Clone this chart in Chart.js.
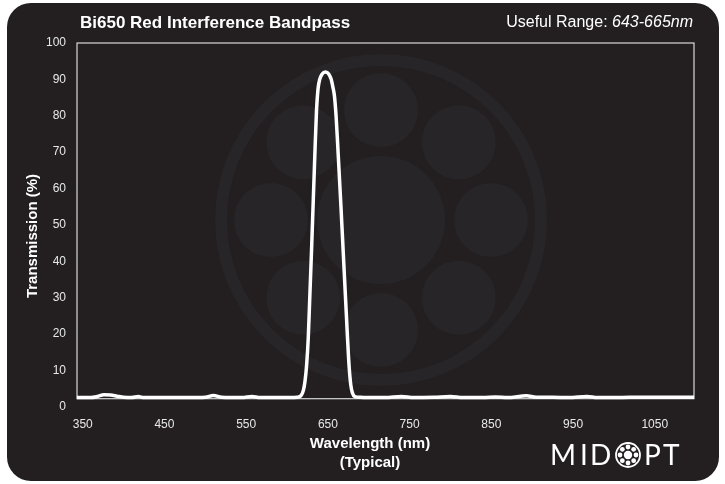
<!DOCTYPE html>
<html><head><meta charset="utf-8">
<script src="https://cdn.jsdelivr.net/npm/chart.js@4/dist/chart.umd.min.js"></script>
<style>html,body{margin:0;padding:0;background:#fff;}canvas{display:block;}</style>
</head><body>
<canvas id="c" width="725" height="484"></canvas>
<script>
const titleText = 'Bi650 Red Interference Bandpass';
const rangeLabel = 'Useful Range: ';
const rangeValue = '643-665nm';
const xAxisTitle = ['Wavelength (nm)', '(Typical)'];
const yAxisTitle = 'Transmission (%)';
const xTicks = [350, 450, 550, 650, 750, 850, 950, 1050];
const yTicks = [0, 10, 20, 30, 40, 50, 60, 70, 80, 90, 100];
const wavelengths = [343, 360, 368, 376, 384, 392, 400, 410, 418, 425, 450, 480, 500, 510, 520, 545, 557, 567, 590, 605, 612, 617, 620, 622, 624, 626, 628, 630, 632, 634, 636, 638, 640, 643, 647, 651, 654, 656, 658, 660, 662, 664, 666, 668, 670, 672, 674, 676, 678, 680, 683, 690, 700, 720, 740, 755, 780, 800, 815, 840, 855, 870, 893, 905, 925, 945, 967, 980, 1000, 1020, 1050, 1075, 1098];
const transmission = [2.5, 2.5, 2.8, 3.3, 3.2, 2.9, 2.6, 2.5, 2.8, 2.5, 2.5, 2.5, 2.6, 3.1, 2.6, 2.5, 2.8, 2.5, 2.5, 2.5, 2.6, 3.0, 4.5, 7, 11.5, 19, 31, 43, 56, 69, 81, 87.5, 90, 91.5, 92, 91.5, 90, 88, 85.5, 80, 72, 63.5, 55, 46, 37, 28, 19, 11, 6, 3.8, 2.8, 2.6, 2.5, 2.5, 2.8, 2.5, 2.6, 2.8, 2.5, 2.5, 2.7, 2.5, 3.0, 2.6, 2.6, 2.5, 2.8, 2.5, 2.5, 2.6, 2.6, 2.6, 2.6];
const xMin = 343, xMax = 1098, frameBottom = 2.2;

const FONT = "'Liberation Sans', Arial, sans-serif";

function roundRect(ctx, x, y, w, h, r) {
  ctx.beginPath();
  ctx.moveTo(x + r, y);
  ctx.arcTo(x + w, y, x + w, y + h, r);
  ctx.arcTo(x + w, y + h, x, y + h, r);
  ctx.arcTo(x, y + h, x, y, r);
  ctx.arcTo(x, y, x + w, y, r);
  ctx.closePath();
}

const decor = {
  id: 'decor',
  beforeDraw(chart) {
    const ctx = chart.ctx;
    ctx.save();
    ctx.fillStyle = '#ffffff';
    ctx.fillRect(0, 0, chart.width, chart.height);
    ctx.fillStyle = '#231f20';
    roundRect(ctx, 7, 3, 712, 478, 24);
    ctx.fill();
    ctx.restore();
  },
  beforeDatasetsDraw(chart) {
    const ctx = chart.ctx;
    ctx.save();
    const cx = 381, cy = 220;
    ctx.fillStyle = '#272527';
    ctx.strokeStyle = '#272527';
    ctx.lineWidth = 12;
    ctx.beginPath(); ctx.arc(cx, cy, 160, 0, Math.PI * 2); ctx.stroke();
    ctx.beginPath(); ctx.arc(cx, cy, 64, 0, Math.PI * 2); ctx.fill();
    for (let i = 0; i < 8; i++) {
      const a = i * Math.PI / 4;
      ctx.beginPath(); ctx.arc(cx + 110 * Math.cos(a), cy + 110 * Math.sin(a), 37, 0, Math.PI * 2); ctx.fill();
    }
    const xs = chart.scales.x, ys = chart.scales.y;
    const l = xs.getPixelForValue(xMin), r = xs.getPixelForValue(xMax);
    const t = ys.getPixelForValue(100), b = ys.getPixelForValue(frameBottom);
    ctx.strokeStyle = '#d8d8d8';
    ctx.lineWidth = 1.2;
    ctx.strokeRect(l, t, r - l, b - t);
    ctx.restore();
  },
  afterDraw(chart) {
    const ctx = chart.ctx;
    ctx.save();
    ctx.fillStyle = '#ffffff';
    ctx.textBaseline = 'middle';
    ctx.font = 'bold 17px ' + FONT;
    ctx.textAlign = 'left';
    ctx.fillText(titleText, 80, 23);
    ctx.textAlign = 'right';
    ctx.font = 'italic 16px ' + FONT;
    const w2 = ctx.measureText(rangeValue).width;
    ctx.fillText(rangeValue, 693, 23);
    ctx.font = '16px ' + FONT;
    ctx.fillText(rangeLabel, 693 - w2, 23);
    ctx.textAlign = 'center';
    ctx.font = 'bold 15px ' + FONT;
    ctx.fillText(xAxisTitle[0], 370, 444);
    ctx.fillText(xAxisTitle[1], 370, 463);
    ctx.translate(33, 236);
    ctx.rotate(-Math.PI / 2);
    ctx.fillText(yAxisTitle, 0, 0);
    ctx.restore();
    // logo
    ctx.save();
    ctx.fillStyle = '#ffffff';
    ctx.strokeStyle = '#ffffff';
    ctx.font = "28px Lato, 'Liberation Sans', sans-serif";
    ctx.textBaseline = 'alphabetic';
    ctx.textAlign = 'left';
    [['M', 550], ['I', 580], ['D', 590], ['P', 644], ['T', 663]].forEach(([ch, x]) => ctx.fillText(ch, x, 465));
    const ix = 628, iy = 455;
    ctx.lineWidth = 1.8;
    ctx.beginPath(); ctx.arc(ix, iy, 12, 0, Math.PI * 2); ctx.stroke();
    ctx.beginPath(); ctx.arc(ix, iy, 4.2, 0, Math.PI * 2); ctx.fill();
    for (let i = 0; i < 8; i++) {
      const a = i * Math.PI / 4;
      ctx.beginPath(); ctx.arc(ix + 8 * Math.cos(a), iy + 8 * Math.sin(a), 2.4, 0, Math.PI * 2); ctx.fill();
    }
    ctx.restore();
  }
};

new Chart(document.getElementById('c'), {
  type: 'line',
  data: {
    datasets: [{
      data: wavelengths.map((w, i) => ({ x: w, y: transmission[i] })),
      borderColor: '#ffffff',
      borderWidth: 3.5,
      pointRadius: 0,
      fill: false,
      cubicInterpolationMode: 'monotone'
    }]
  },
  options: {
    responsive: false,
    animation: false,
    devicePixelRatio: 1,
    layout: { padding: { top: 43, right: 31, left: 0, bottom: 0 } },
    plugins: { legend: { display: false }, tooltip: { enabled: false } },
    scales: {
      x: {
        type: 'linear', min: xMin, max: xMax,
        afterBuildTicks: s => { s.ticks = xTicks.map(v => ({ value: v })); },
        afterFit: s => { s.height = 77.3; },
        ticks: { color: '#e8e8e8', font: { family: FONT, size: 12 }, padding: 11, maxRotation: 0, autoSkip: false, callback: v => String(v) },
        grid: { display: false, drawTicks: false },
        border: { display: false }
      },
      y: {
        min: 0, max: 100,
        afterBuildTicks: s => { s.ticks = yTicks.map(v => ({ value: v })); },
        afterFit: s => { s.width = 77; },
        ticks: { color: '#e8e8e8', font: { family: FONT, size: 12 }, padding: 11, callback: v => String(v) },
        grid: { display: false, drawTicks: false },
        border: { display: false }
      }
    }
  },
  plugins: [decor]
});
</script>
</body></html>
